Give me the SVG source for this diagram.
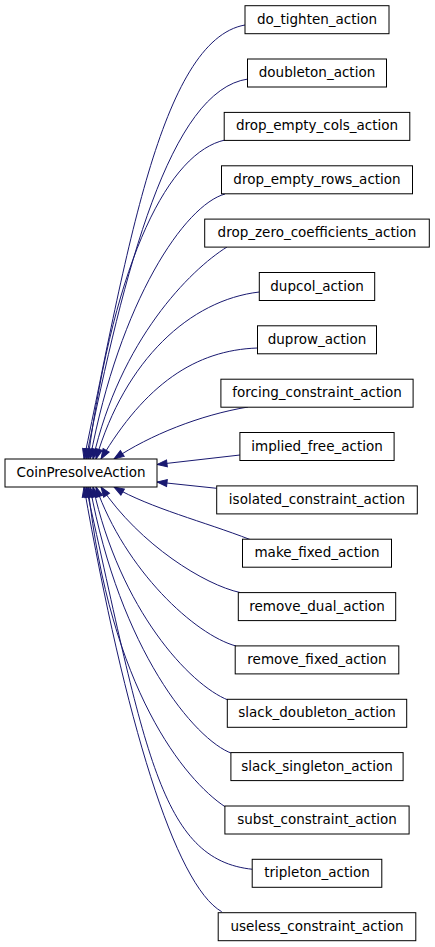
<svg xmlns="http://www.w3.org/2000/svg" width="435" height="947" viewBox="0 0 435 947">
<style>
.n rect{fill:#fff;stroke:#000;stroke-width:1}
.n text{font-family:"DejaVu Sans","Liberation Sans",sans-serif;font-size:13.5px;text-anchor:middle;fill:#000}
.e path{fill:none;stroke:#191970;stroke-width:1;marker-end:url(#arr)}
</style>
<defs>
<marker id="arr" markerUnits="userSpaceOnUse" markerWidth="12" markerHeight="10" viewBox="0 0 12 10" refX="11" refY="5" orient="auto">
<path d="M1,1.5 L11,5 L1,8.5 z" fill="#191970" stroke="#191970" stroke-width="1"/>
</marker>
</defs>
<rect width="435" height="947" fill="#fff"/>
<g class="e" id="edges">
<path d="M245,25 C160,40 126,260 84,459"/>
<path d="M248,79 C170,90 124,270 86,459"/>
<path d="M225,140 C170,152 115,255 88,459"/>
<path d="M225,194 C185,205 120,300 90,459"/>
<path d="M227,247 C190,270 120,340 93,459"/>
<path d="M259.3,292 C190,300 125,360 96,459"/>
<path d="M257.7,348 C195,350 145,385 101,459"/>
<path d="M248,407 C200,415 150,435 114,459"/>
<path d="M240,455 L157,464.5"/>
<path d="M216.7,488.3 L157,482"/>
<path d="M250,539.5 C205,522 150,508 114,487"/>
<path d="M240,592.5 C205,585 140,545 101,487"/>
<path d="M236,646 C195,635 125,570 96,487"/>
<path d="M228,700 C190,685 120,610 93,487"/>
<path d="M231.7,753.3 C195,740 120,650 90,487"/>
<path d="M225,806.7 C185,780 110,690 88,487"/>
<path d="M252.7,869.3 C160,860 145,750 86,487"/>
<path d="M221.7,911.7 C175,885 125,720 84,487"/>
</g>
<g class="n" id="CoinPresolveAction"><rect x="5" y="459" width="152" height="28"/><text x="81" y="477">CoinPresolveAction</text></g>
<g class="n" id="do_tighten_action"><rect x="245" y="5.7" width="144" height="28"/><text x="317" y="23.7">do_tighten_action</text></g>
<g class="n" id="doubleton_action"><rect x="247.5" y="59" width="139" height="28"/><text x="317" y="77">doubleton_action</text></g>
<g class="n" id="drop_empty_cols_action"><rect x="224.2" y="112.4" width="185.6" height="28"/><text x="317" y="130.4">drop_empty_cols_action</text></g>
<g class="n" id="drop_empty_rows_action"><rect x="221.5" y="165.8" width="191" height="28"/><text x="317" y="183.8">drop_empty_rows_action</text></g>
<g class="n" id="drop_zero_coefficients_action"><rect x="204.7" y="219.1" width="224.6" height="28"/><text x="317" y="237.1">drop_zero_coefficients_action</text></g>
<g class="n" id="dupcol_action"><rect x="259.3" y="272.5" width="115.4" height="28"/><text x="317" y="290.5">dupcol_action</text></g>
<g class="n" id="duprow_action"><rect x="257.5" y="325.8" width="119" height="28"/><text x="317" y="343.8">duprow_action</text></g>
<g class="n" id="forcing_constraint_action"><rect x="220.9" y="379.2" width="192.2" height="28"/><text x="317" y="397.2">forcing_constraint_action</text></g>
<g class="n" id="implied_free_action"><rect x="239.9" y="432.5" width="154.2" height="28"/><text x="317" y="450.5">implied_free_action</text></g>
<g class="n" id="isolated_constraint_action"><rect x="216.7" y="485.9" width="200.6" height="28"/><text x="317" y="503.9">isolated_constraint_action</text></g>
<g class="n" id="make_fixed_action"><rect x="242.5" y="539.2" width="149" height="28"/><text x="317" y="557.2">make_fixed_action</text></g>
<g class="n" id="remove_dual_action"><rect x="238.3" y="592.6" width="157.4" height="28"/><text x="317" y="610.6">remove_dual_action</text></g>
<g class="n" id="remove_fixed_action"><rect x="235.2" y="645.9" width="163.6" height="28"/><text x="317" y="663.9">remove_fixed_action</text></g>
<g class="n" id="slack_doubleton_action"><rect x="227.3" y="699.3" width="179.4" height="28"/><text x="317" y="717.3">slack_doubleton_action</text></g>
<g class="n" id="slack_singleton_action"><rect x="230.9" y="752.6" width="172.2" height="28"/><text x="317" y="770.6">slack_singleton_action</text></g>
<g class="n" id="subst_constraint_action"><rect x="224.9" y="806" width="184.2" height="28"/><text x="317" y="824">subst_constraint_action</text></g>
<g class="n" id="tripleton_action"><rect x="252.2" y="859.3" width="129.6" height="28"/><text x="317" y="877.3">tripleton_action</text></g>
<g class="n" id="useless_constraint_action"><rect x="218.2" y="912.7" width="197.6" height="28"/><text x="317" y="930.7">useless_constraint_action</text></g>
</svg>
